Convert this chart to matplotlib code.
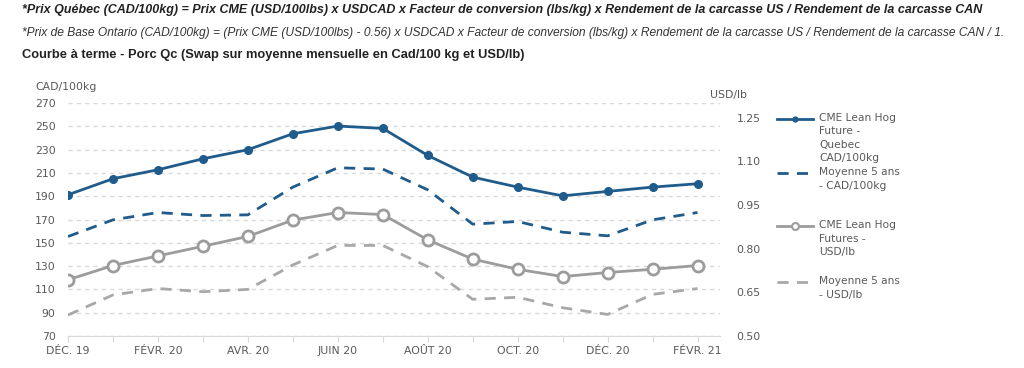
import matplotlib
matplotlib.use("Agg")
import matplotlib.pyplot as plt
from matplotlib.lines import Line2D
from matplotlib import font_manager
import numpy as np

months = ["DÉC. 19", "JANV. 20", "FÉVR. 20", "MARS 20", "AVR. 20", "MAI 20", "JUIN 20",
          "JUIL. 20", "AOÛT 20", "SEPT. 20", "OCT. 20", "NOV. 20", "DÉC. 20", "JANV. 21", "FÉVR. 21"]
quebec_cad = [191.2, 205.0, 212.7, 222.1, 229.9, 243.6, 250.2, 248.2, 225.0, 206.4, 197.8, 190.3, 194.1, 197.8, 200.7]
avg5_cad = [155.4, 169.7, 176.0, 173.4, 174.0, 197.8, 214.4, 213.3, 195.5, 166.0, 168.3, 159.1, 156.0, 169.7, 176.0]
cme_usd = [0.693, 0.742, 0.775, 0.808, 0.842, 0.898, 0.924, 0.917, 0.830, 0.764, 0.729, 0.704, 0.718, 0.729, 0.742]
avg5_usd = [0.572, 0.641, 0.663, 0.652, 0.660, 0.744, 0.811, 0.811, 0.738, 0.626, 0.633, 0.597, 0.574, 0.643, 0.663]

left_ticks = [70, 90, 110, 130, 150, 170, 190, 210, 230, 250, 270]
right_ticks = [0.50, 0.65, 0.80, 0.95, 1.10, 1.25]

labels = ["CME Lean Hog\nFuture -\nQuebec\nCAD/100kg", "Moyenne 5 ans\n- CAD/100kg",
          "CME Lean Hog\nFutures -\nUSD/lb", "Moyenne 5 ans\n- USD/lb"]

title1 = "*Prix Québec (CAD/100kg) = Prix CME (USD/100lbs) x USDCAD x Facteur de conversion (lbs/kg) x Rendement de la carcasse US / Rendement de la carcasse CAN"
title2 = "*Prix de Base Ontario (CAD/100kg) = (Prix CME (USD/100lbs) - 0.56) x USDCAD x Facteur de conversion (lbs/kg) x Rendement de la carcasse US / Rendement de la carcasse CAN / 1."
title3 = "Courbe à terme - Porc Qc (Swap sur moyenne mensuelle en Cad/100 kg et USD/lb)"

BLUE = "#1F5C8C"
GRAY = "#9C9C9C"
GRAY2 = "#A8A8A8"
TXT = "#595959"
W, H = 1024, 368
FS = 7.8

names = {f.name for f in font_manager.fontManager.ttflist}
narrow = "Liberation Sans Narrow" if "Liberation Sans Narrow" in names else "Liberation Sans"

fig = plt.figure(figsize=(W / 100, H / 100), dpi=100)
ax = fig.add_axes([68 / W, (H - 336) / H, (720 - 68) / W, (336 - 103) / H])
ax2 = ax.twinx()

x = np.arange(len(months))
ax.plot(x, quebec_cad, color=BLUE, lw=2, marker="o", ms=5.5, zorder=5)
ax.plot(x, avg5_cad, color=BLUE, lw=2, ls=(0, (4, 3)), zorder=4)
ax2.plot(x, cme_usd, color=GRAY, lw=2, marker="o", ms=8, mfc="white", mec=GRAY, mew=2, zorder=5)
ax2.plot(x, avg5_usd, color=GRAY2, lw=2, ls=(0, (4, 3)), zorder=4)

ax.set_xlim(0, 14.5)
ax.set_ylim(70, 270)
ax2.set_ylim(0.5, 1.3)
ax.set_yticks(left_ticks)
ax2.set_yticks(right_ticks)
ax2.set_yticklabels([f"{v:.2f}" for v in right_ticks])
ax.set_xticks(x)
ax.set_xticklabels([m if i % 2 == 0 else "" for i, m in enumerate(months)])

for a in (ax, ax2):
    for s in a.spines.values():
        s.set_visible(False)
ax.spines["bottom"].set_visible(True)
ax.spines["bottom"].set_color("#D9D9D9")
ax.grid(axis="y", color="#D9D9D9", ls=(0, (3, 3)), lw=1)
ax.set_axisbelow(True)
ax.tick_params(axis="y", length=0, labelsize=FS, labelcolor=TXT, pad=9)
ax2.tick_params(axis="y", length=0, labelsize=FS, labelcolor=TXT, pad=12)
ax.tick_params(axis="x", length=4, color="#D9D9D9", labelsize=FS, labelcolor=TXT, pad=3)

fig.text(35 / W, 1 - 87 / H, "CAD/100kg", fontsize=FS, color=TXT, va="center", ha="left")
fig.text(710 / W, 1 - 95 / H, "USD/lb", fontsize=FS, color=TXT, va="center", ha="left")

renderer = fig.canvas.get_renderer()


def fit_text(y_px, s, width_px, **kw):
    t = fig.text(22 / W, 1 - y_px / H, s, fontsize=10, va="center", **kw)
    w = t.get_window_extent(renderer).width
    t.set_fontsize(10 * width_px / w)
    return t


fit_text(10, title1, 963, fontweight="bold", fontstyle="italic", family=narrow, color="#222222")
fit_text(33, title2, 988, fontstyle="italic", family=narrow, color="#333333")
fit_text(55, title3, 506, fontweight="bold", family="Liberation Sans", color="#222222")

# legend
leg_y = [118.5, 173, 226, 282]
styles = [dict(color=BLUE, lw=2, marker="o", ms=3.5, markevery=[1]),
          dict(color=BLUE, lw=2, ls=(0, (4, 3))),
          dict(color=GRAY, lw=2, marker="o", ms=5, mfc="white", mec=GRAY, mew=1.5, markevery=[1]),
          dict(color=GRAY2, lw=2, ls=(0, (4, 3)))]
for yy, st, lab in zip(leg_y, styles, labels):
    yf = 1 - yy / H
    fig.add_artist(Line2D([777 / W, 795 / W, 813 / W], [yf, yf, yf], transform=fig.transFigure, **st))
    fig.text(819 / W, yf + 6 / H, lab, fontsize=7.7, color=TXT, va="top", ha="left", linespacing=1.45)

fig.savefig("out.png", dpi=100)
